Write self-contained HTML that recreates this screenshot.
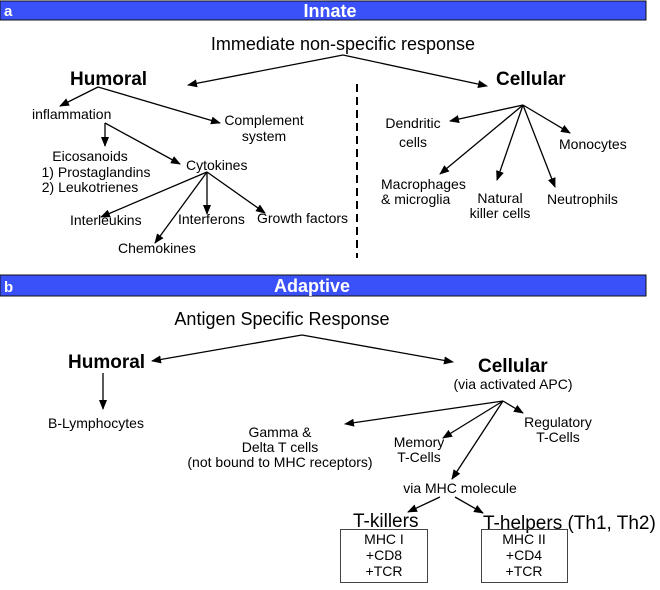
<!DOCTYPE html>
<html><head><meta charset="utf-8"><style>
html,body{margin:0;padding:0;background:#fff;}
svg{display:block;font-family:"Liberation Sans",Arial,sans-serif;}
</style></head><body>
<svg width="660" height="590" viewBox="0 0 660 590" xmlns="http://www.w3.org/2000/svg">
<defs><marker id="a" markerWidth="10" markerHeight="8" refX="9" refY="4" orient="auto" markerUnits="userSpaceOnUse"><path d="M0,0 L10,4 L0,8 z" fill="#000"/></marker></defs>
<rect x="0" y="1" width="646" height="19" fill="#3a50f8" stroke="#111" stroke-width="1"/>
<text x="4" y="16" fill="#fff" font-weight="bold" font-size="15">a</text>
<text x="330" y="17" fill="#fff" font-weight="bold" font-size="18" text-anchor="middle">Innate</text>
<rect x="0" y="275" width="646" height="21" fill="#3a50f8" stroke="#111" stroke-width="1"/>
<text x="4" y="292" fill="#fff" font-weight="bold" font-size="15">b</text>
<text x="312" y="292" fill="#fff" font-weight="bold" font-size="18" text-anchor="middle">Adaptive</text>
<g stroke="#000" stroke-width="1.3" fill="none" marker-end="url(#a)">
<line x1="343" y1="55" x2="188" y2="85"/><line x1="343" y1="55" x2="487" y2="86"/>
<line x1="98" y1="87" x2="60" y2="106"/><line x1="98" y1="87" x2="220" y2="123"/>
<line x1="105" y1="123" x2="105" y2="146"/><line x1="105" y1="123" x2="180" y2="164"/>
<line x1="207" y1="172" x2="101" y2="217"/><line x1="207" y1="172" x2="155" y2="243"/>
<line x1="207" y1="172" x2="207" y2="214"/><line x1="207" y1="172" x2="265" y2="213"/>
<line x1="523" y1="105" x2="450" y2="121"/><line x1="523" y1="105" x2="440" y2="174"/>
<line x1="523" y1="105" x2="497" y2="180"/><line x1="523" y1="105" x2="555" y2="187"/>
<line x1="523" y1="105" x2="570" y2="133"/>
<line x1="302" y1="335" x2="152" y2="361"/><line x1="302" y1="335" x2="453" y2="362"/>
<line x1="103" y1="373" x2="103" y2="409"/>
<line x1="503" y1="401" x2="345" y2="424"/><line x1="503" y1="401" x2="443" y2="438"/>
<line x1="503" y1="401" x2="452" y2="479"/><line x1="503" y1="401" x2="523" y2="413"/>
<line x1="440" y1="497" x2="408" y2="512"/><line x1="455" y1="497" x2="483" y2="513"/>
</g>
<line x1="357" y1="84" x2="357" y2="258" stroke="#000" stroke-width="2" stroke-dasharray="8,5"/>
<g font-size="14" fill="#000">
<text x="343" y="50" font-size="18" text-anchor="middle">Immediate non-specific response</text>
<text x="70" y="85" font-size="19" font-weight="bold">Humoral</text>
<text x="496" y="85" font-size="19" font-weight="bold">Cellular</text>
<text x="32" y="119">inflammation</text>
<text x="264" y="125" text-anchor="middle">Complement</text>
<text x="264" y="141" text-anchor="middle">system</text>
<text x="90" y="161" text-anchor="middle">Eicosanoids</text>
<text x="96" y="177" text-anchor="middle">1) Prostaglandins</text>
<text x="90" y="192" text-anchor="middle">2) Leukotrienes</text>
<text x="186" y="170">Cytokines</text>
<text x="70" y="225">Interleukins</text>
<text x="118" y="253">Chemokines</text>
<text x="178" y="224">Interferons</text>
<text x="257" y="223">Growth factors</text>
<text x="413" y="128" text-anchor="middle">Dendritic</text>
<text x="413" y="147" text-anchor="middle">cells</text>
<text x="381" y="189">Macrophages</text>
<text x="381" y="204">&amp; microglia</text>
<text x="500" y="203" text-anchor="middle">Natural</text>
<text x="500" y="218" text-anchor="middle">killer cells</text>
<text x="547" y="204">Neutrophils</text>
<text x="559" y="149">Monocytes</text>
<text x="282" y="325" font-size="18" text-anchor="middle">Antigen Specific Response</text>
<text x="68" y="368" font-size="19" font-weight="bold">Humoral</text>
<text x="478" y="372" font-size="19" font-weight="bold">Cellular</text>
<text x="513" y="389" text-anchor="middle">(via activated APC)</text>
<text x="48" y="428">B-Lymphocytes</text>
<text x="280" y="437" text-anchor="middle">Gamma &amp;</text>
<text x="280" y="452" text-anchor="middle">Delta T cells</text>
<text x="280" y="467" text-anchor="middle">(not bound to MHC receptors)</text>
<text x="419" y="447" text-anchor="middle">Memory</text>
<text x="419" y="462" text-anchor="middle">T-Cells</text>
<text x="558" y="427" text-anchor="middle">Regulatory</text>
<text x="558" y="442" text-anchor="middle">T-Cells</text>
<text x="460" y="493" text-anchor="middle">via MHC molecule</text>
<text x="353" y="527" font-size="19">T-killers</text>
<text x="483" y="529" font-size="19">T-helpers (Th1, Th2)</text>
</g>
<rect x="340.5" y="529.5" width="87" height="53" fill="none" stroke="#444"/>
<rect x="481.5" y="529.5" width="86" height="53" fill="none" stroke="#444"/>
<g font-size="14" text-anchor="middle">
<text x="384" y="544">MHC I</text><text x="384" y="560">+CD8</text><text x="384" y="576">+TCR</text>
<text x="524" y="544">MHC II</text><text x="524" y="560">+CD4</text><text x="524" y="576">+TCR</text>
</g>
</svg>
</body></html>
